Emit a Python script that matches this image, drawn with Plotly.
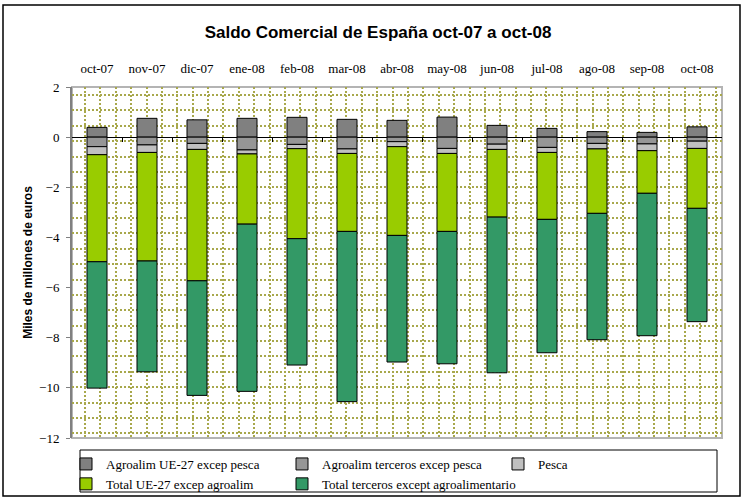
import plotly.graph_objects as go

months = ["oct-07", "nov-07", "dic-07", "ene-08", "feb-08", "mar-08", "abr-08",
          "may-08", "jun-08", "jul-08", "ago-08", "sep-08", "oct-08"]

agro_ue27 = [0.39, 0.75, 0.69, 0.75, 0.79, 0.71, 0.67, 0.80, 0.47, 0.35, 0.22, 0.19, 0.41]
agro_terceros = [-0.38, -0.31, -0.25, -0.51, -0.29, -0.47, -0.18, -0.45, -0.28, -0.41, -0.25, -0.27, -0.16]
pesca = [-0.32, -0.30, -0.24, -0.16, -0.17, -0.18, -0.20, -0.20, -0.21, -0.20, -0.22, -0.27, -0.29]
total_ue27 = [-4.27, -4.33, -5.24, -2.80, -3.59, -3.11, -3.54, -3.11, -2.70, -2.67, -2.57, -1.70, -2.39]
total_terceros = [-5.04, -4.42, -4.57, -6.67, -5.04, -6.79, -5.05, -5.28, -6.21, -5.32, -5.04, -5.68, -4.52]

y_ticks = [2, 0, -2, -4, -6, -8, -10, -12]

series = [
    ("Agroalim UE-27 excep pesca", agro_ue27, "#808080"),
    ("Agroalim terceros excep pesca", agro_terceros, "#969696"),
    ("Pesca", pesca, "#C0C0C0"),
    ("Total UE-27 excep agroalim", total_ue27, "#99CC00"),
    ("Total terceros except agroalimentario", total_terceros, "#339966"),
]

SERIF = "Liberation Serif, Times New Roman, serif"
SANS = "Liberation Sans, Arial, sans-serif"

fig = go.Figure()
for name, vals, col in series:
    fig.add_trace(go.Bar(
        x=months, y=vals, name=name,
        marker=dict(color=col, line=dict(color="black", width=1)),
    ))

# dummy traces for the decorative pattern grid and the zero-line tick axis
fig.add_trace(go.Scatter(x=[], y=[], xaxis="x2", yaxis="y2", showlegend=False, hoverinfo="skip"))
fig.add_trace(go.Scatter(x=[], y=[], xaxis="x3", yaxis="y", showlegend=False, hoverinfo="skip"))

# plot area pixel size: 650 x 351 ; pattern grid spacing ~15.38 px
W, H = 650, 351
step = 15.38
vgrid = [13 + step * k for k in range(42)]
hgrid = [H - 8 - step * k for k in range(23)]
grid_col = "#a8a84c"

fig.update_layout(
    width=743, height=499,
    margin=dict(l=72, r=21, t=87, b=61, autoexpand=False),
    paper_bgcolor="white", plot_bgcolor="white",
    barmode="relative", bargap=0.6,
    title=dict(text="<b>Saldo Comercial de España oct-07 a oct-08</b>",
               x=378 / 743, xref="container", xanchor="center",
               y=1 - 32 / 499, yref="container", yanchor="middle",
               font=dict(family=SANS, size=17, color="black")),
    xaxis=dict(type="category", side="top", showline=False, ticks="",
               showgrid=False, tickfont=dict(family=SERIF, size=13, color="black"),
               ticklabelstandoff=10, range=[-0.5, 12.5]),
    yaxis=dict(range=[-12, 2], tickvals=y_ticks, ticks="outside", ticklen=4,
               tickcolor="#808080", showline=True, linecolor="#808080", linewidth=2,
               showgrid=False, zeroline=True, zerolinecolor="black", zerolinewidth=1,
               tickfont=dict(family=SERIF, size=13, color="black"),
               ticklabelstandoff=4,
               title=dict(text="<b>Miles de millones de euros</b>",
                          font=dict(family=SANS, size=12, color="black"), standoff=4)),
    xaxis2=dict(overlaying="x", range=[0, W], tickmode="array", tickvals=vgrid,
                showticklabels=False, ticks="", showgrid=True, gridcolor=grid_col,
                griddash="2px,2px", gridwidth=1.6, zeroline=False, showline=False),
    yaxis2=dict(overlaying="y", range=[0, H], tickmode="array", tickvals=hgrid,
                showticklabels=False, ticks="", showgrid=True, gridcolor=grid_col,
                griddash="2px,2px", gridwidth=1.6, zeroline=False, showline=False),
    xaxis3=dict(overlaying="x", anchor="free", position=12 / 14, range=[-0.5, 12.5],
                tickmode="array", tickvals=[i + 0.5 for i in range(12)],
                ticks="outside", ticklen=4, tickcolor="black", showticklabels=False,
                showgrid=False, zeroline=False, showline=False),
    legend=dict(orientation="h", x=(66 - 72) / W, xanchor="left",
                y=(438 - 449) / H, yanchor="top",
                borderwidth=0, bgcolor="rgba(0,0,0,0)",
                entrywidth=171, entrywidthmode="pixels", traceorder="normal",
                font=dict(family=SERIF, size=13, color="black"),
                tracegroupgap=0),
    showlegend=True,
    shapes=[
        # plot area border
        dict(type="rect", xref="paper", yref="paper", x0=0, x1=1, y0=0, y1=1,
             line=dict(color="#b4b4b4", width=2), layer="below"),
        # legend box
        dict(type="rect", xref="paper", yref="paper",
             x0=(80 - 72) / W, x1=(717 - 72) / W,
             y0=(438 - 492) / H, y1=(438 - 450) / H,
             line=dict(color="black", width=1), layer="below"),
        # outer chart border
        dict(type="rect", xref="paper", yref="paper",
             x0=(3 - 72) / W, x1=(740 - 72) / W,
             y0=(438 - 496) / H, y1=(438 - 5) / H,
             line=dict(color="black", width=1.5), layer="below"),
    ],
)

fig.write_html("out.html", config={"displayModeBar": False},
               post_script="document.body.style.margin='0px';document.body.style.padding='0px';")
